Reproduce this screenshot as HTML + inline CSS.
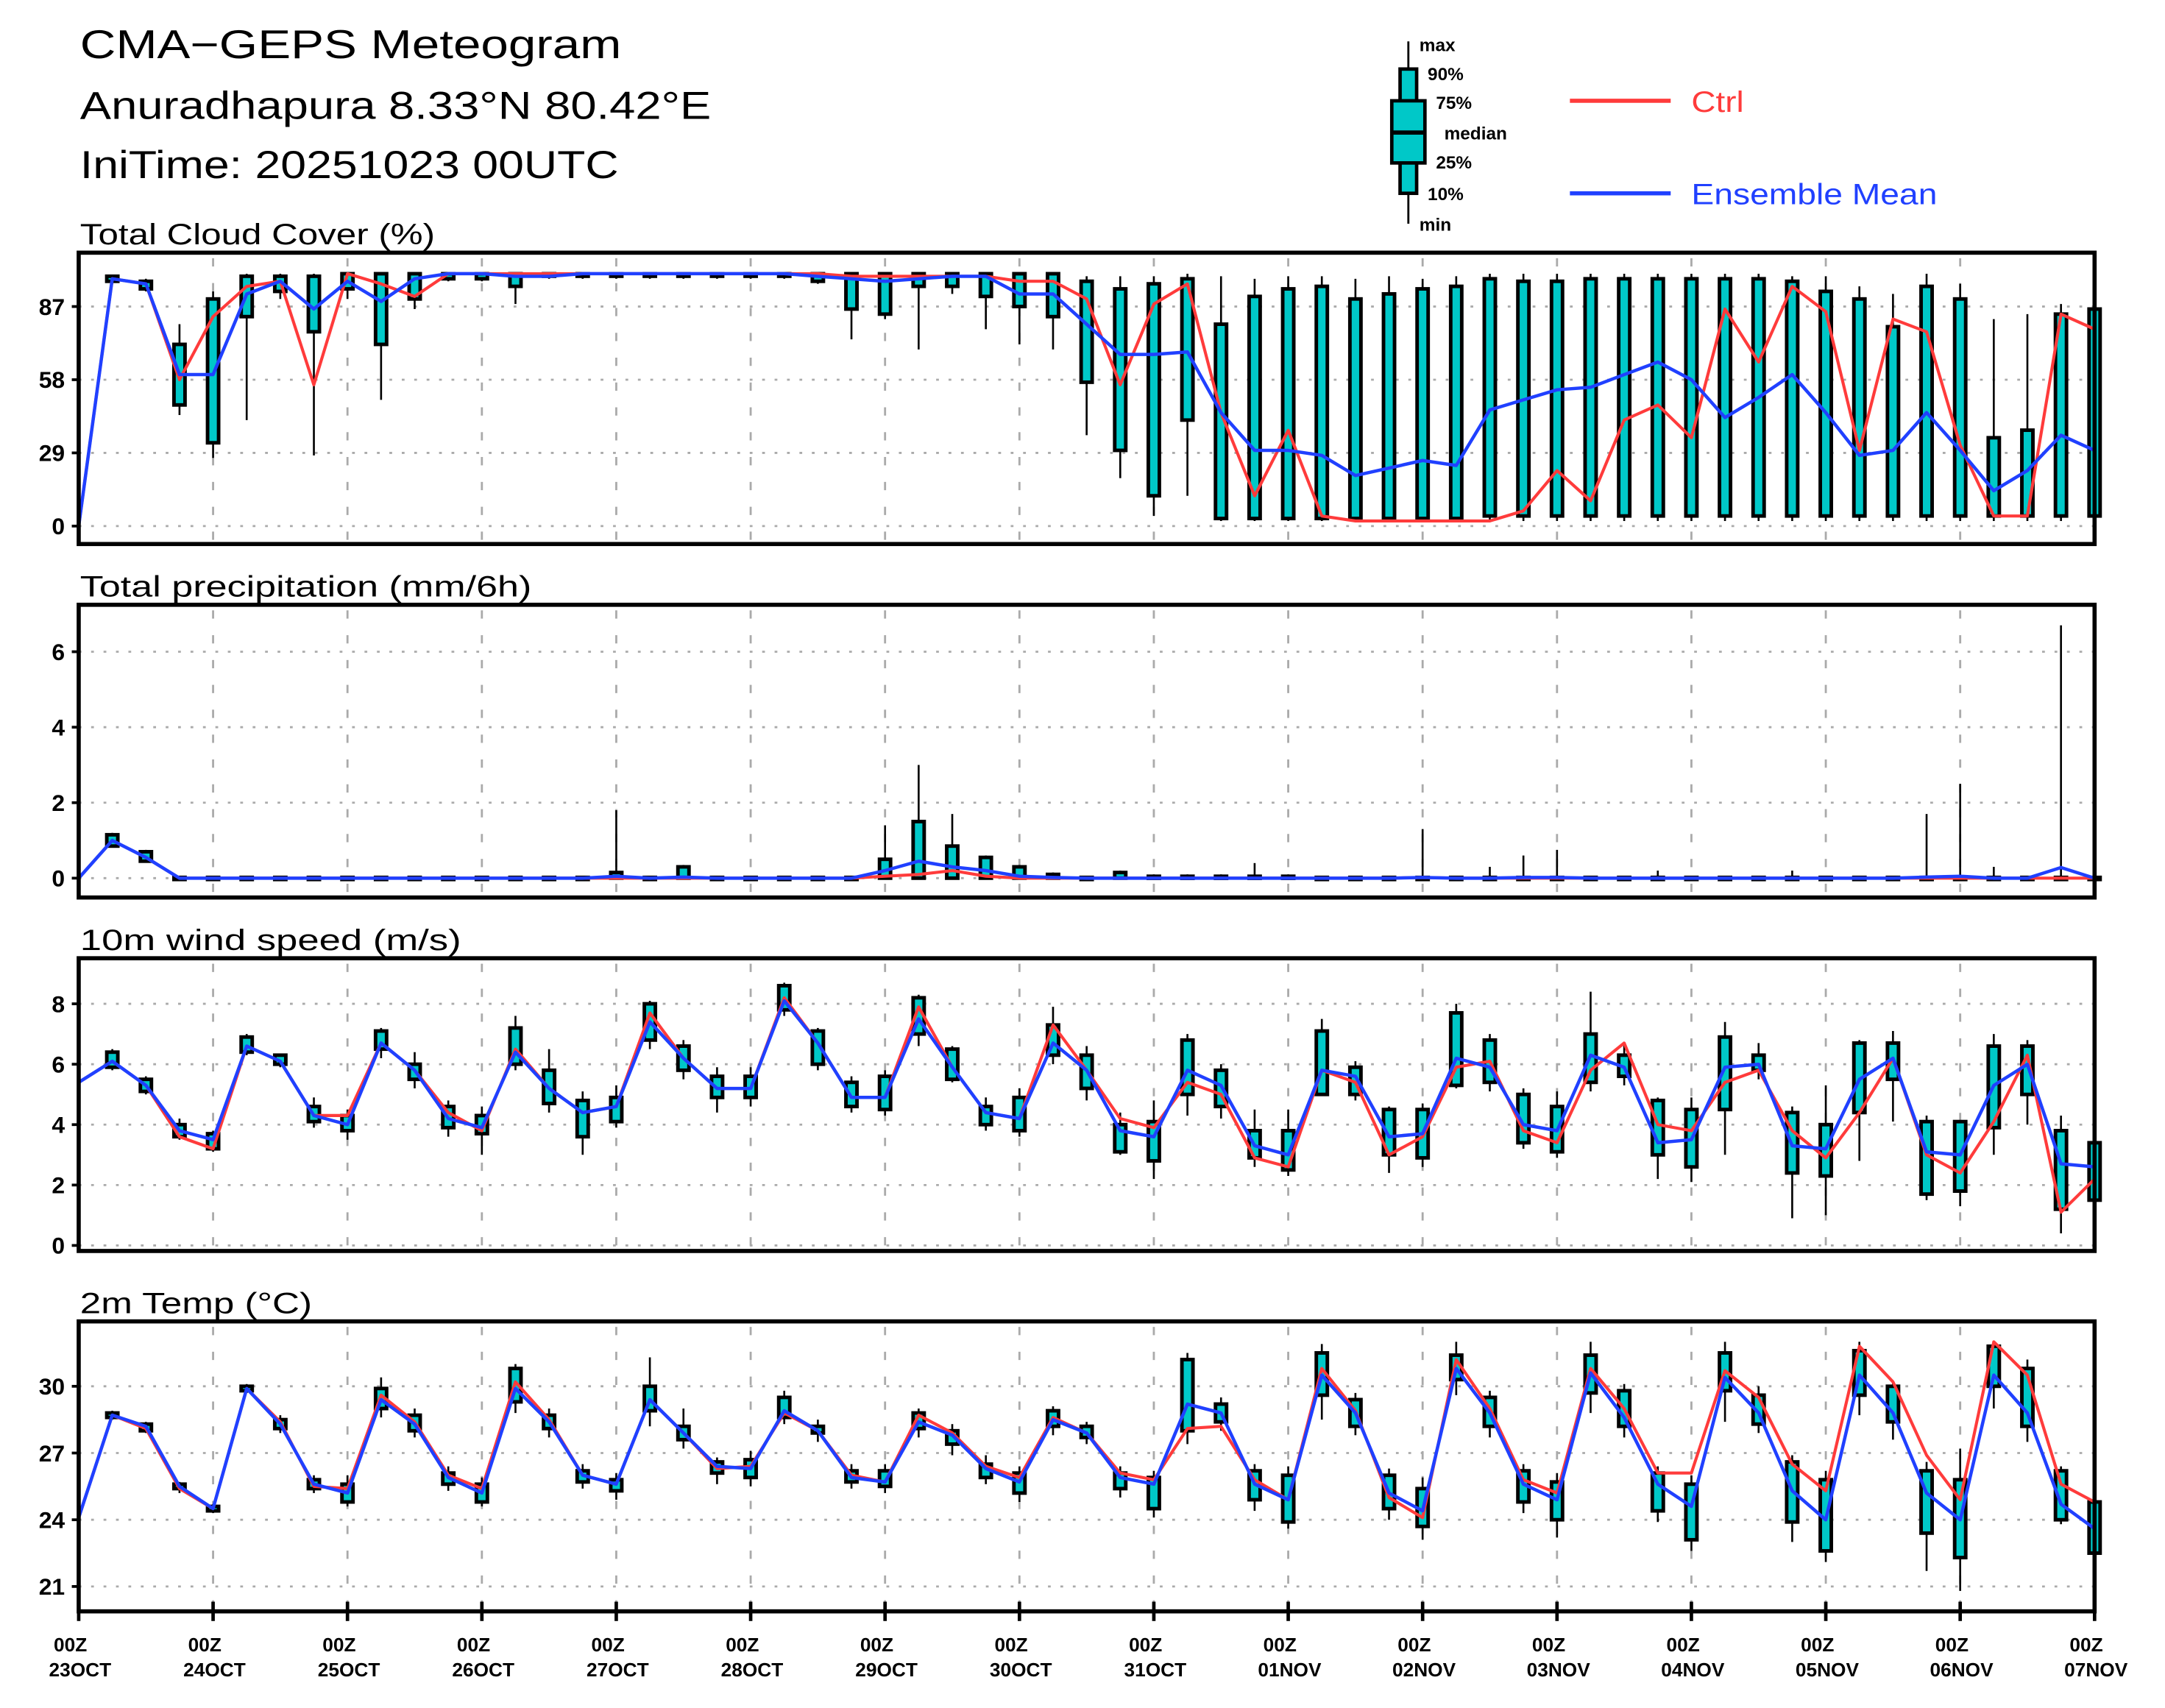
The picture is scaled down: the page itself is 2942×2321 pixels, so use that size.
<!DOCTYPE html>
<html><head><meta charset="utf-8"><style>
html,body{margin:0;padding:0;background:#fff;}
svg{display:block;}
text{font-family:"Liberation Sans",sans-serif;}
</style></head><body>
<svg id="chart" xmlns="http://www.w3.org/2000/svg" width="2942" height="2321" viewBox="0 0 1568 1237" preserveAspectRatio="none">
<rect x="0" y="0" width="1568" height="1237" fill="#fff"/>
<text x="58" y="42" font-size="29" textLength="392" lengthAdjust="spacingAndGlyphs">CMA−GEPS Meteogram</text>
<text x="58" y="86" font-size="28" textLength="457" lengthAdjust="spacingAndGlyphs">Anuradhapura 8.33°N 80.42°E</text>
<text x="58" y="129" font-size="28" textLength="390" lengthAdjust="spacingAndGlyphs">IniTime: 20251023 00UTC</text>
<g>
<line x1="1020" y1="30" x2="1020" y2="162" stroke="#000" stroke-width="1.5"/>
<rect x="1014" y="50" width="12" height="90" fill="#00c8c8" stroke="#000" stroke-width="2.5"/>
<rect x="1008" y="73" width="24" height="45" fill="#00c8c8" stroke="#000" stroke-width="2.5"/>
<line x1="1008" y1="96" x2="1032" y2="96" stroke="#000" stroke-width="3"/>
<text x="1028" y="37" font-size="13" font-weight="bold">max</text>
<text x="1034" y="58" font-size="13" font-weight="bold">90%</text>
<text x="1040" y="79" font-size="13" font-weight="bold">75%</text>
<text x="1046" y="101" font-size="13" font-weight="bold">median</text>
<text x="1040" y="122" font-size="13" font-weight="bold">25%</text>
<text x="1034" y="145" font-size="13" font-weight="bold">10%</text>
<text x="1028" y="167" font-size="13" font-weight="bold">min</text>
</g>
<g><line x1="1137" y1="73" x2="1210" y2="73" stroke="#ff3b3b" stroke-width="3"/><text x="1225" y="81" font-size="21" fill="#ff3b3b" textLength="38" lengthAdjust="spacingAndGlyphs">Ctrl</text></g>
<g><line x1="1137" y1="140" x2="1210" y2="140" stroke="#2040ff" stroke-width="3"/><text x="1225" y="148" font-size="21" fill="#2040ff" textLength="178" lengthAdjust="spacingAndGlyphs">Ensemble Mean</text></g>
</svg>
<script>
// ---- Cloud cover data ----
const cloudCtrl=[0,98,96,58,83,95,97,56,100,96,91,100,100,100,100,100,100,100,100,100,100,100,100,99,99,99,99,99,97,97,90,56,88,96,45,12,38,4,2,2,2,2,2,6,22,10,42,48,35,86,65,95,85,30,82,77,32,4,4,84,78];
const cloudMean=[0,98,96,60,60,92,97,86,97,89,98,100,100,99,99,100,100,100,100,100,100,100,99,98,97,98,99,99,92,92,80,68,68,69,45,30,30,28,20,23,26,24,46,50,54,55,60,65,58,43,51,60,45,28,30,45,30,14,22,36,30];
const cloudLo=[null,97,94,48,33,83,93,77,94,72,90,98,98,95,99,99,99,99,99,99,99,99,97,86,84,95,95,91,87,83,57,30,12,42,3,3,3,3,3,3,3,3,4,4,4,4,4,4,4,4,4,4,4,4,4,4,4,4,4,4,4];
const cloudHi=[null,99,97,72,90,99,99,99,100,100,100,100,100,100,100,100,100,100,100,100,100,100,100,100,100,100,100,100,100,100,97,94,96,98,80,91,94,95,90,92,94,95,98,97,97,98,98,98,98,98,98,97,93,90,79,95,90,35,38,84,86];
const cloudMin=[null,96,93,44,27,42,90,28,90,50,86,97,97,88,98,98,98,98,98,98,98,98,96,74,82,70,92,78,72,70,36,19,4,12,2,2,2,2,2,2,2,2,2,2,2,2,2,2,2,2,2,2,2,2,2,2,2,2,2,2,2];
const cloudMax=[null,99,98,80,93,100,100,100,100,100,100,100,100,100,100,100,100,100,100,100,100,100,100,100,100,100,100,100,100,100,99,99,99,100,99,98,99,99,98,99,98,99,100,100,100,100,100,100,100,100,100,99,99,95,92,100,96,82,84,88,88];
const cloudTicks=[0,29,58,87];
// ---- Precipitation data ----
const precCtrl=[0,1.0,0.55,0,0,0,0,0,0,0,0,0,0,0,0,0,0,0,0,0,0,0,0,0,0.05,0.1,0.2,0.05,0,0,0,0,0,0,0,0,0,0,0,0,0.02,0,0,0,0,0,0,0,0,0,0,0,0,0,0,0,0,0,0,0,0];
const precMean=[0,1.0,0.55,0,0,0,0,0,0,0,0,0,0,0,0,0,0.05,0,0.03,0,0,0,0,0,0.2,0.45,0.3,0.2,0.05,0.02,0,0,0,0,0,0,0,0,0,0,0.02,0,0,0.02,0.02,0,0,0,0,0,0,0,0,0,0,0.03,0.05,0,0,0.28,0];
const precLo=[null,0.85,0.45,0,0,0,0,0,0,0,0,0,0,0,0,0,0,0,0,0,0,0,0,0,0,0,0,0,0,0,0,0,0,0,0,0,0,0,0,0,0,0,0,0,0,0,0,0,0,0,0,0,0,0,0,0,0,0,0,0,0];
const precHi=[null,1.15,0.7,0.02,0.02,0.02,0.02,0.02,0.02,0.02,0.02,0.02,0.02,0.02,0.02,0.02,0.15,0.02,0.3,0.02,0.02,0.02,0.02,0.02,0.5,1.5,0.85,0.55,0.3,0.1,0.02,0.15,0.05,0.05,0.05,0.05,0.05,0.02,0.02,0.02,0.02,0.02,0.02,0.02,0.02,0.02,0.02,0.02,0.02,0.02,0.02,0.02,0.02,0.02,0.02,0.02,0.02,0.02,0.02,0.02,0.02];
const precMax=[null,1.2,0.75,0.05,0.05,0.05,0.05,0.05,0.05,0.05,0.05,0.05,0.05,0.05,0.05,0.05,1.8,0.05,0.35,0.05,0.05,0.05,0.05,0.05,1.4,3.0,1.7,0.6,0.35,0.15,0.05,0.2,0.1,0.1,0.1,0.4,0.1,0.05,0.05,0.05,1.3,0.05,0.3,0.6,0.75,0.05,0.05,0.2,0.05,0.05,0.05,0.2,0.05,0.05,0.05,1.7,2.5,0.3,0.05,6.7,0.05];
const precTicks=[0,2,4,6];
// ---- Wind data ----
const windCtrl=[5.4,6.1,5.3,3.6,3.2,6.6,6.1,4.3,4.3,6.7,5.8,4.4,3.8,6.5,5.2,4.4,4.6,7.7,6.2,5.2,5.2,8.2,6.7,4.9,4.9,7.9,5.9,4.4,4.2,7.3,5.8,4.2,3.9,5.4,5.0,2.9,2.6,5.8,5.4,3.0,3.6,5.9,6.1,3.8,3.4,5.8,6.7,4.0,3.8,5.4,5.8,3.8,2.9,4.4,6.2,3.0,2.4,4.1,6.3,1.1,2.2];
const windMean=[5.4,6.1,5.3,3.8,3.5,6.6,6.1,4.3,4.0,6.7,5.8,4.2,3.9,6.4,5.2,4.4,4.6,7.4,6.2,5.2,5.2,8.1,6.7,4.9,4.9,7.5,5.9,4.4,4.2,6.7,5.8,3.8,3.6,5.8,5.3,3.3,3.0,5.8,5.6,3.6,3.7,6.2,5.9,4.0,3.8,6.3,5.9,3.4,3.5,5.9,6.0,3.3,3.2,5.5,6.2,3.1,3.0,5.3,6.0,2.7,2.6];
const windLo=[null,5.9,5.1,3.6,3.2,6.4,6.0,4.1,3.8,6.5,5.5,3.9,3.7,6.0,4.7,3.6,4.1,6.8,5.8,4.9,4.9,7.8,6.0,4.6,4.5,7.0,5.5,4.0,3.8,6.3,5.2,3.1,2.8,5.0,4.6,2.9,2.5,5.0,5.0,3.0,2.9,5.3,5.4,3.4,3.1,5.4,5.6,3.0,2.6,4.5,5.8,2.4,2.3,4.4,5.5,1.7,1.8,3.9,5.0,1.2,1.5];
const windHi=[null,6.4,5.5,4.0,3.7,6.9,6.3,4.6,4.3,7.1,6.0,4.6,4.3,7.2,5.8,4.8,4.9,8.0,6.6,5.6,5.6,8.6,7.1,5.4,5.6,8.2,6.5,4.6,4.9,7.3,6.3,4.0,4.1,6.8,5.8,3.8,3.8,7.1,5.9,4.5,4.5,7.7,6.8,5.0,4.6,7.0,6.3,4.8,4.5,6.9,6.3,4.4,4.0,6.7,6.7,4.1,4.1,6.6,6.6,3.8,3.4];
const windMin=[null,5.8,5.0,3.5,3.1,6.3,5.9,3.9,3.5,6.2,5.2,3.6,3.0,5.8,4.4,3.0,3.9,6.5,5.5,4.4,4.6,7.6,5.8,4.4,4.3,6.6,5.4,3.8,3.6,6.0,4.8,3.0,2.2,4.3,4.2,2.6,2.3,5.0,4.8,2.4,2.6,5.2,5.1,3.2,2.9,5.1,5.3,2.2,2.1,3.0,5.5,0.9,1.0,2.8,4.1,1.5,1.3,3.0,4.0,0.4,1.2];
const windMax=[null,6.5,5.6,4.2,3.8,7.0,6.3,4.9,4.5,7.2,6.4,4.8,4.6,7.6,6.5,5.1,5.3,8.1,6.8,5.9,5.9,8.7,7.2,5.6,5.8,8.3,6.6,4.9,5.2,7.9,6.6,4.4,4.8,7.0,6.0,4.5,4.5,7.5,6.1,4.6,4.7,8.0,7.0,5.2,5.1,8.4,6.7,4.9,4.9,7.4,6.7,4.6,5.3,6.8,7.1,4.3,4.1,7.0,6.8,4.3,3.7];
const windTicks=[0,2,4,6,8];
// ---- Temperature data ----
const tempCtrl=[24.1,28.7,28.1,25.4,24.5,29.9,28.4,25.5,25.4,29.6,28.4,26.0,25.4,30.2,28.5,26.0,25.6,29.4,27.9,26.3,26.4,28.8,28.0,26.0,25.7,28.7,27.9,26.4,25.9,28.6,27.9,26.1,25.8,28.1,28.2,25.8,24.9,30.8,28.9,25.0,24.1,31.2,29.0,25.8,25.2,30.8,29.0,26.1,26.1,30.7,29.5,26.5,25.3,31.8,30.2,26.9,24.9,32.0,30.5,25.6,24.8];
const tempMean=[24.1,28.7,28.2,25.5,24.5,29.9,28.3,25.6,25.2,29.4,28.3,25.9,25.2,29.9,28.4,26.0,25.6,29.4,27.9,26.4,26.3,28.9,28.0,25.9,25.7,28.4,27.8,26.3,25.7,28.5,27.9,25.9,25.6,29.2,28.8,25.6,24.9,30.5,28.8,25.2,24.4,30.8,28.8,25.6,24.9,30.6,28.6,25.6,24.6,30.4,28.8,25.3,24.0,30.5,28.8,25.2,24.0,30.5,28.8,24.7,23.6];
const tempLo=[null,28.6,28.0,25.4,24.4,29.8,28.1,25.4,24.8,29.0,28.0,25.6,24.8,29.3,28.1,25.7,25.3,28.9,27.6,26.1,25.9,28.6,27.9,25.7,25.5,28.1,27.4,25.9,25.2,28.2,27.7,25.4,24.5,28.0,28.4,24.9,23.9,29.6,28.2,24.5,23.7,30.3,28.2,24.8,24.0,29.7,28.2,24.4,23.1,29.8,28.3,23.9,22.6,29.6,28.4,23.4,22.3,30.0,28.2,24.0,22.5];
const tempHi=[null,28.8,28.3,25.6,24.6,30.0,28.5,25.8,25.6,29.9,28.7,26.1,25.6,30.8,28.7,26.2,25.8,30.0,28.2,26.6,26.7,29.5,28.2,26.2,26.2,28.8,28.0,26.5,26.1,28.9,28.2,26.1,25.9,31.2,29.2,26.2,26.0,31.5,29.4,26.0,25.4,31.4,29.5,26.2,25.7,31.4,29.8,26.1,25.6,31.5,29.6,26.6,25.8,31.6,30.0,26.2,25.8,31.8,30.8,26.2,24.8];
const tempMin=[null,28.5,27.9,25.2,24.3,29.7,27.9,25.2,24.6,28.6,27.7,25.3,24.6,28.8,27.7,25.4,24.9,28.2,27.2,25.6,25.5,28.3,27.5,25.4,25.2,27.7,26.9,25.6,24.8,27.8,27.4,25.0,24.1,27.4,28.0,24.4,23.6,28.5,27.8,24.0,23.1,29.6,27.7,24.3,23.2,28.8,27.7,23.9,22.6,28.4,27.9,23.0,22.1,28.7,27.6,21.7,20.8,29.0,27.5,23.8,22.2];
const tempMax=[null,28.9,28.4,25.7,24.7,30.1,28.7,26.0,26.0,30.4,29.0,26.4,25.9,31.0,29.0,26.5,26.1,31.3,29.0,26.8,27.1,29.8,28.5,26.5,26.5,29.0,28.3,26.9,26.4,29.1,28.4,26.4,26.2,31.5,29.5,26.5,26.4,31.9,29.7,26.3,25.9,32.0,29.8,26.5,26.1,32.0,30.1,26.4,26.0,32.0,30.0,26.9,26.2,32.0,30.2,26.6,27.2,31.8,31.2,26.4,25.1];
const tempTicks=[21,24,27,30];
const dayLabels=["23OCT","24OCT","25OCT","26OCT","27OCT","28OCT","29OCT","30OCT","31OCT","01NOV","02NOV","03NOV","04NOV","05NOV","06NOV","07NOV"];

const NS="http://www.w3.org/2000/svg";
const svg=document.getElementById('chart');
const X0=57,X1=1517,NSTEP=60;
function xScale(i){return X0+(X1-X0)*i/NSTEP;}
function mk(tag,attrs,parent){const e=document.createElementNS(NS,tag);for(const k in attrs)e.setAttribute(k,attrs[k]);(parent||svg).appendChild(e);return e;}

const panels=[
 {name:'cloud',title:'Total Cloud Cover (%)',tw:257,top:183,bot:394,v0:0,y0:381,v1:87,y1:222,ticks:cloudTicks,ctrl:cloudCtrl,mean:cloudMean,lo:cloudLo,hi:cloudHi,mn:cloudMin,mx:cloudMax},
 {name:'precip',title:'Total precipitation (mm/6h)',tw:327,top:438,bot:650,v0:0,y0:636,v1:6,y1:472,ticks:precTicks,ctrl:precCtrl,mean:precMean,lo:precLo,hi:precHi,mn:precLo,mx:precMax},
 {name:'wind',title:'10m wind speed (m/s)',tw:276,top:694,bot:906,v0:0,y0:902,v1:8,y1:727,ticks:windTicks,ctrl:windCtrl,mean:windMean,lo:windLo,hi:windHi,mn:windMin,mx:windMax},
 {name:'temp',title:'2m Temp (°C)',tw:168,top:957,bot:1167,v0:21,y0:1149,v1:30,y1:1004,ticks:tempTicks,ctrl:tempCtrl,mean:tempMean,lo:tempLo,hi:tempHi,mn:tempMin,mx:tempMax}
];

panels.forEach(p=>{
  const ys=v=>p.y0+(v-p.v0)*(p.y1-p.y0)/(p.v1-p.v0);
  const g=mk('g',{});
  
  
  const t=mk('text',{x:58,y:p.top-6,'font-size':21,textLength:p.tw,lengthAdjust:'spacingAndGlyphs'},g);
  t.textContent=p.title;
  
  
  p.ticks.forEach(v=>{
    const y=ys(v);
    const gl=mk('line',{x1:X0,x2:X1,y1:y,y2:y,stroke:'#aaa','stroke-width':1.5,'stroke-dasharray':'2 7'},g);
    
    
    mk('line',{x1:X0-5,x2:X0,y1:y,y2:y,stroke:'#000','stroke-width':2},g);
    const tl=mk('text',{x:X0-10,y:y+6,'font-size':17,'font-weight':'bold','text-anchor':'end'},g);
    tl.textContent=String(v);
    
    
  });
  for(let d=1;d<15;d++){
    const x=xScale(d*4);
    const vl=mk('line',{x1:x,x2:x,y1:p.top+4,y2:p.bot-2,stroke:'#aaa','stroke-width':1.5,'stroke-dasharray':'6 12'},g);
    
    
  }
  for(let i=1;i<=NSTEP;i++){
    if(p.lo[i]==null)continue;
    const x=xScale(i);
    const bg=mk('g',{},g);
    
    
    mk('line',{x1:x,x2:x,y1:ys(p.mn[i]),y2:ys(p.mx[i]),stroke:'#000','stroke-width':1.4},bg);
    const yT=ys(p.hi[i]),yB=ys(p.lo[i]);
    mk('rect',{x:x-4,y:Math.min(yT,yB),width:8,height:Math.max(Math.abs(yB-yT),1.5),fill:'#00c8c8',stroke:'#000','stroke-width':2.6},bg);
  }
  const pts=arr=>arr.map((v,i)=>xScale(i).toFixed(1)+','+ys(v).toFixed(1)).join(' ');
  const lc=mk('polyline',{points:pts(p.ctrl),fill:'none',stroke:'#ff3b3b','stroke-width':2.2,'stroke-linejoin':'round'},g);
  
  
  const lm=mk('polyline',{points:pts(p.mean),fill:'none',stroke:'#2040ff','stroke-width':2.4,'stroke-linejoin':'round'},g);
  
  
  const fr=mk('rect',{x:X0,y:p.top,width:X1-X0,height:p.bot-p.top,fill:'none',stroke:'#000','stroke-width':3},g);
  
  
});

for(let d=0;d<=15;d++){
  const x=xScale(d*4);
  mk('line',{x1:x,x2:x,y1:1160,y2:1174,stroke:'#000','stroke-width':2.5});
  const a=mk('text',{x:x-6,y:1196,'font-size':14,'font-weight':'bold','text-anchor':'middle'});
  a.textContent='00Z';
  
  
  const b=mk('text',{x:x+1,y:1214,'font-size':14,'font-weight':'bold','text-anchor':'middle'});
  b.textContent=dayLabels[d];
  
  
}
</script>
</body></html>
